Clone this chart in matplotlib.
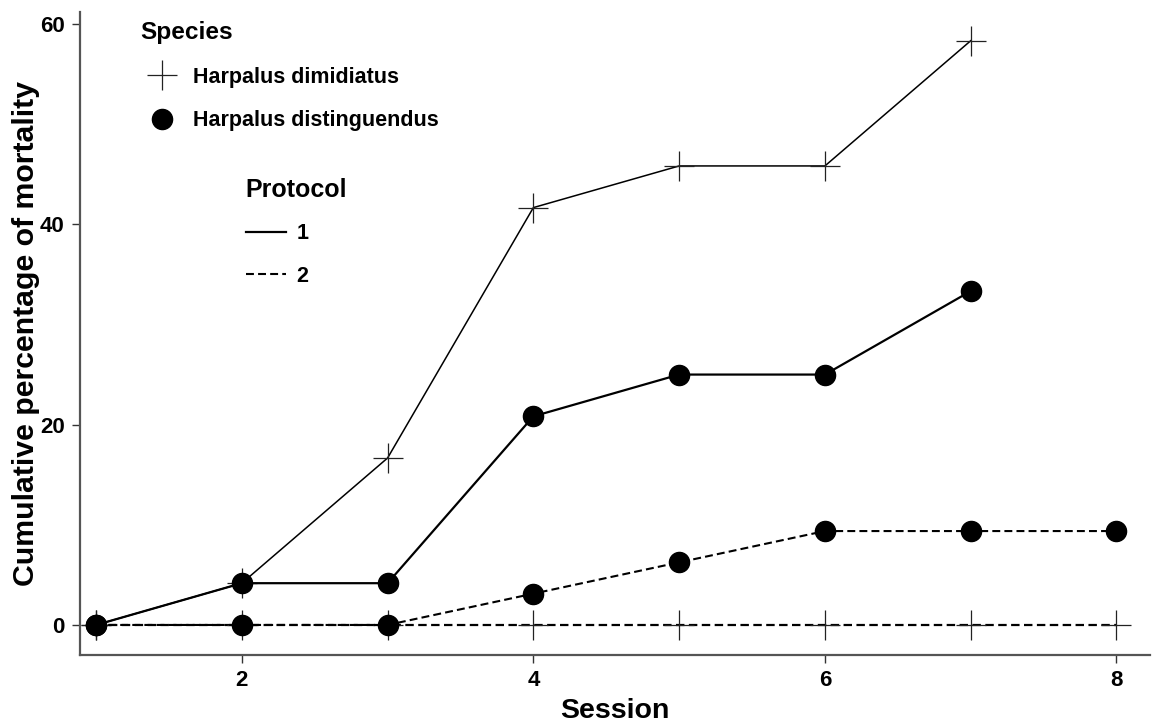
import matplotlib
matplotlib.use("Agg")
import matplotlib.pyplot as plt
from matplotlib.lines import Line2D

plt.rcParams['font.family'] = ['Liberation Sans', 'DejaVu Sans']
plt.rcParams['font.weight'] = 'bold'

sessions_p1 = [1, 2, 3, 4, 5, 6, 7]
sessions_p2 = [1, 2, 3, 4, 5, 6, 7, 8]
dimidiatus_p1 = [0, 4.17, 16.67, 41.67, 45.83, 45.83, 58.33]
distinguendus_p1 = [0, 4.17, 4.17, 20.83, 25.0, 25.0, 33.33]
dimidiatus_p2 = [0, 0, 0, 0, 0, 0, 0, 0]
distinguendus_p2 = [0, 0, 0, 3.125, 6.25, 9.375, 9.375, 9.375]
xticks = [2, 4, 6, 8]
yticks = [0, 20, 40, 60]

fig = plt.figure(figsize=(11.55, 7.24), dpi=100)
ax = fig.add_axes([80/1155, 69/724, 1070/1155, 643/724])

dash = (3.8, 2.0)
plus_kw = dict(marker='+', markersize=21.5, markeredgewidth=0.9, markeredgecolor='#222222')
circ_kw = dict(marker='o', markersize=14.5, markerfacecolor='black', markeredgecolor='black')

ax.plot(sessions_p2, dimidiatus_p2, color='black', lw=1.6, linestyle=(0, dash), zorder=2, **plus_kw)
ax.plot(sessions_p2, distinguendus_p2, color='black', lw=1.5, linestyle=(0, dash), zorder=3, **circ_kw)
ax.plot(sessions_p1, dimidiatus_p1, color='black', lw=1.1, zorder=2, **plus_kw)
ax.plot(sessions_p1, distinguendus_p1, color='black', lw=1.6, zorder=3, **circ_kw)

ax.set_xlim(0.89, 8.23)
ax.set_ylim(-3.0, 61.2)
ax.set_xticks(xticks)
ax.set_yticks(yticks)
ax.tick_params(axis='both', labelsize=16, length=6, width=1.0, color='#333333', pad=5)
for lab in ax.get_xticklabels() + ax.get_yticklabels():
    lab.set_fontweight('bold')
for s in ['top', 'right']:
    ax.spines[s].set_visible(False)
for s in ['left', 'bottom']:
    ax.spines[s].set_color('#555555')
    ax.spines[s].set_linewidth(1.6)

ax.set_xlabel('Session', fontsize=20.5, fontweight='bold', labelpad=5)
ax.set_ylabel('Cumulative percentage of mortality', fontsize=21.8, fontweight='bold', labelpad=0)

sp_handles = [Line2D([], [], color='none', **plus_kw),
              Line2D([], [], color='none', **circ_kw)]
leg1 = ax.legend(sp_handles, ['Harpalus dimidiatus', 'Harpalus distinguendus'],
                 title='Species', loc='upper left', bbox_to_anchor=(0.056, 0.986),
                 frameon=False, fontsize=15.5, title_fontproperties={'size': 17.6, 'weight': 'bold'},
                 alignment='left', handlelength=2.05, handletextpad=0.4, labelspacing=1.05,
                 borderpad=0, borderaxespad=0, numpoints=1)
ax.add_artist(leg1)

pr_handles = [Line2D([], [], color='black', lw=1.6),
              Line2D([], [], color='black', lw=1.5, linestyle=(0, dash))]
leg2 = ax.legend(pr_handles, ['1', '2'], title='Protocol', loc='upper left',
                 bbox_to_anchor=(0.155, 0.742), frameon=False, fontsize=15.5,
                 title_fontproperties={'size': 18, 'weight': 'bold'}, alignment='left',
                 handlelength=1.85, handletextpad=0.5, labelspacing=1.0,
                 borderpad=0, borderaxespad=0)

fig.savefig('out.png', dpi=100)
